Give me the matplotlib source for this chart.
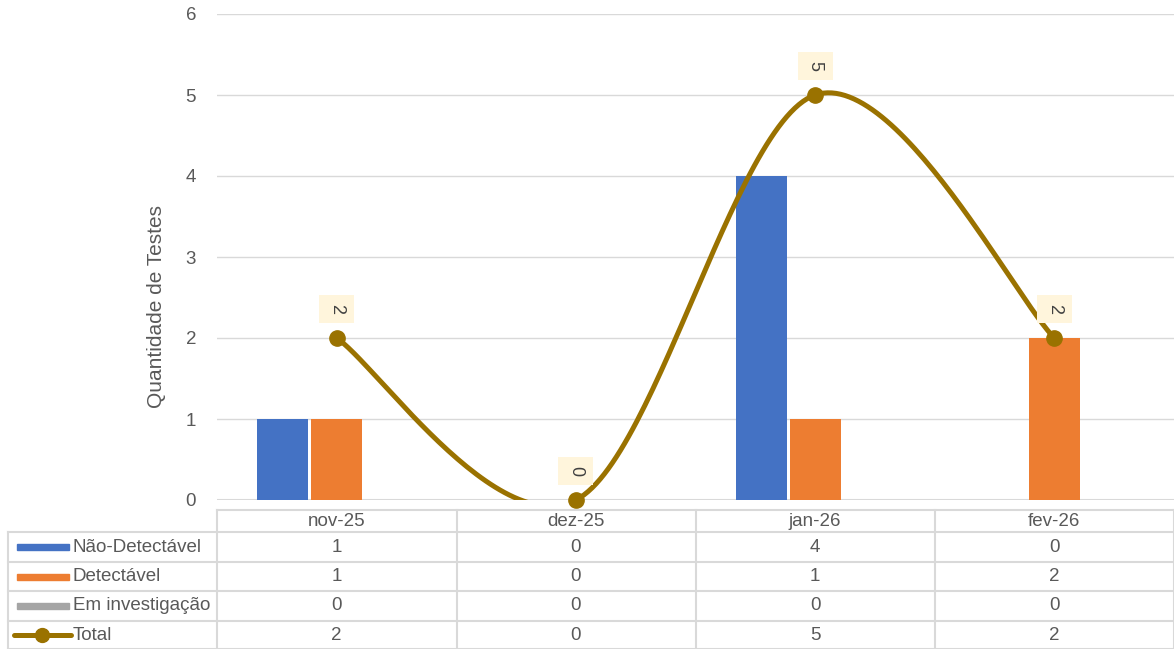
import numpy as np
import matplotlib
matplotlib.use("Agg")
import matplotlib.pyplot as plt
from matplotlib.lines import Line2D
from matplotlib.patches import Rectangle
from matplotlib.transforms import blended_transform_factory

plt.rcParams['font.family'] = ['Liberation Sans', 'DejaVu Sans']

categories = ['nov-25', 'dez-25', 'jan-26', 'fev-26']
nao_detectavel = [1, 0, 4, 0]
detectavel = [1, 0, 1, 2]
em_investigacao = [0, 0, 0, 0]
total = [2, 0, 5, 2]

series_names = ['Não-Detectável', 'Detectável', 'Em investigação', 'Total']
bar_colors = ['#4472C4', '#ED7D31', '#A5A5A5']
line_color = '#9A7200'
grid_color = '#D9D9D9'
text_color = '#595959'

W, H = 1174, 649
fig = plt.figure(figsize=(W / 100, H / 100), dpi=100)


def fx(px):
    return px / W


def fy(py):
    return 1 - py / H


# plot area in pixels: x 217..1174, y 14..500
ax = fig.add_axes([fx(217), fy(500), fx(1174) - fx(217), fy(14) - fy(500)])
x = np.arange(len(categories))
ax.set_xlim(-0.5, len(categories) - 0.5)
ax.set_ylim(0, 6)

pitch = 0.226
bw = 0.213
for i, vals in enumerate([nao_detectavel, detectavel, em_investigacao]):
    ax.bar(x + (i - 1) * pitch, vals, width=bw, color=bar_colors[i], zorder=2)


# Excel style smoothed line (cubic bezier, Catmull-Rom tangents)
def smooth(xs, ys, n=60):
    pts = np.column_stack([xs, ys]).astype(float)
    ext = np.vstack([pts[0], pts, pts[-1]])
    out = []
    t = np.linspace(0, 1, n)[:, None]
    for k in range(len(pts) - 1):
        p0 = ext[k + 1]
        p3 = ext[k + 2]
        c1 = p0 + (ext[k + 2] - ext[k]) / 6
        c2 = p3 - (ext[k + 3] - ext[k + 1]) / 6
        seg = ((1 - t) ** 3) * p0 + 3 * ((1 - t) ** 2) * t * c1 + 3 * (1 - t) * t ** 2 * c2 + t ** 3 * p3
        out.append(seg)
    out = np.vstack(out)
    return out[:, 0], out[:, 1]


sx, sy = smooth(x, total)
ax.plot(sx, sy, color=line_color, lw=3.6, zorder=3, solid_capstyle='round')
ax.plot(x, total, 'o', color=line_color, ms=11, zorder=4, clip_on=False)

for xi, v in zip(x, total):
    ax.annotate(str(v), (xi, v), xytext=(0, 21), textcoords='offset points',
                ha='center', va='center', rotation=-90, fontsize=13, color='#404040',
                bbox=dict(boxstyle='square,pad=0.5', fc='#FFF5DC', ec='none'),
                zorder=5, annotation_clip=False)

ax.set_yticks(range(0, 7))
ax.tick_params(axis='y', length=0, pad=15, labelsize=13.5, labelcolor=text_color)
ax.set_xticks([])
ax.grid(axis='y', color=grid_color, lw=1.0, zorder=0)
ax.set_axisbelow(True)
for s in ax.spines.values():
    s.set_visible(False)
ax.axhline(0, color=grid_color, lw=1.5, zorder=1)

fig.text(fx(157), fy(306), 'Quantidade de Testes', rotation=90, ha='center', va='center',
         fontsize=15, color=text_color)

# data table below the plot
tr = blended_transform_factory(ax.transData, fig.transFigure)
lw_t = 1.5
row_edges = [532, 562, 591, 621, 649]
col_edges = [217, 457, 696, 935, 1174]
fig.add_artist(Line2D([fx(217), fx(1174)], [fy(510), fy(510)], color=grid_color, lw=lw_t))
for ry in row_edges:
    fig.add_artist(Line2D([fx(8), fx(1174)], [fy(ry), fy(ry)], color=grid_color, lw=lw_t))
for cx in col_edges:
    fig.add_artist(Line2D([fx(cx), fx(cx)], [fy(510), fy(649)], color=grid_color, lw=lw_t))
fig.add_artist(Line2D([fx(8), fx(8)], [fy(532), fy(649)], color=grid_color, lw=lw_t))

for xi, c in zip(x, categories):
    fig.text(xi, fy(521), c, transform=tr, ha='center', va='center', fontsize=13.5, color=text_color)

table_rows = [nao_detectavel, detectavel, em_investigacao, total]
for r, (name, vals) in enumerate(zip(series_names, table_rows)):
    cy = (row_edges[r] + row_edges[r + 1]) / 2
    fig.text(fx(73), fy(cy), name, ha='left', va='center', fontsize=13.5, color=text_color)
    for xi, v in zip(x, vals):
        fig.text(xi, fy(cy), str(v), transform=tr, ha='center', va='center', fontsize=13.5, color=text_color)
    if r < 3:
        fig.add_artist(Rectangle((fx(17), fy(cy + 3)), fx(69) - fx(17), fy(cy - 3) - fy(cy + 3),
                                 transform=fig.transFigure, color=bar_colors[r]))
    else:
        fig.add_artist(Line2D([fx(14), fx(71)], [fy(cy), fy(cy)], color=line_color, lw=3.6,
                              solid_capstyle='round'))
        fig.add_artist(Line2D([fx(42)], [fy(cy)], marker='o', ms=10, color=line_color))

fig.savefig('out.png', dpi=100)
